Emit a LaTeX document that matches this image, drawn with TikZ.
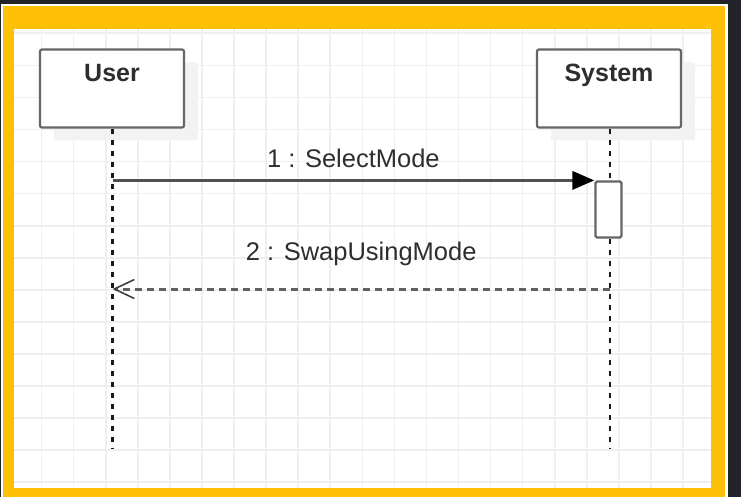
\documentclass[tikz,border=0pt]{standalone}
\usepackage{fontspec}
\setmainfont{Liberation Sans}
\usetikzlibrary{arrows.meta,shadows}

\definecolor{pagedark}{HTML}{212529}
\definecolor{frameyellow}{HTML}{FFC107}
\definecolor{gridgray}{HTML}{EFEFEF}
\definecolor{boxborder}{HTML}{666666}
\definecolor{textdark}{HTML}{2E2E2E}
\definecolor{shadowgray}{HTML}{F2F2F2}
\definecolor{msggray}{HTML}{505050}

\begin{document}
\begin{tikzpicture}[x=1pt,y=-1pt,
  gridline/.style={draw=gridgray, line width=1.6pt},
  lifebox/.style={draw=boxborder, line width=2.2pt, fill=white, rounded corners=2pt,
    minimum width=144pt, minimum height=78pt, inner sep=0pt,
    drop shadow={shadow xshift=14pt, shadow yshift=-13pt, fill=shadowgray, opacity=1}},
  actbox/.style={draw=boxborder, line width=2.2pt, fill=white, rounded corners=1.5pt,
    minimum width=26pt, minimum height=56pt, inner sep=0pt},
  headtext/.style={font=\fontsize{25}{30}\selectfont\bfseries, text=textdark, anchor=base, inner sep=0pt},
  msgtext/.style={font=\fontsize{25.5}{30}\selectfont, text=textdark, anchor=base, inner sep=0pt},
  lifeline/.style={draw=black!90, line width=2.2pt, dash pattern=on 5pt off 6pt},
  callmsg/.style={draw=msggray, line width=3.5pt, -{Triangle[length=22pt,width=18pt,fill=black,color=black]}},
  replymsg/.style={draw=msggray!90, line width=3pt, dash pattern=on 7pt off 5pt,
    -{Straight Barb[length=20pt,width=19pt,line width=1.6pt,color=black!75]}}
]
\useasboundingbox (0,0) rectangle (741,497);

% page background and yellow frame
\fill[pagedark] (0,0) rectangle (741,497);
\fill[white] (0.5,4) rectangle (727.5,497);
\fill[frameyellow] (2.5,6.5) rectangle (724.5,497);
\fill[white] (14,29) rectangle (711,488);

% background grid
\begin{scope}
  \clip (14,29) rectangle (711,488);
  \foreach \i in {0,...,21}
    \draw[gridline] ({41.6+32.07*\i},29) -- ++(0,459);
  \foreach \j in {0,...,14}
    \draw[gridline] (14,{33.3+32.07*\j}) -- ++(697,0);
\end{scope}

% participants
\node[lifebox] (user) at (112,88.5) {};
\node[lifebox] (system) at (609,88.5) {};
\node[headtext] (userlbl) at (112,82) {User};
\node[headtext] (systemlbl) at (609,82) {System};

% lifelines
\coordinate (userend) at (112.5,448);
\coordinate (systemend) at (610,448);
\draw[lifeline] (user.south -| userend) -- (userend);
\draw[lifeline] (system.south -| systemend) -- (systemend);

% activation bar on the System lifeline
\node[actbox] (act) at (608.5,209.5) {};

% 1 : SelectMode
\coordinate (m1start) at (userend |- act.north west);
\draw[callmsg] (m1start) -- (act.north west)
  node[msgtext, pos=0.5, yshift=13pt] (m1lbl) {1 : SelectMode};

% 2 : SwapUsingMode
\coordinate (m2start) at (610,289);
\coordinate (m2end) at (userend |- m2start);
\draw[replymsg] (m2start) -- (m2end)
  node[msgtext, pos=0.5, yshift=29pt] (m2lbl) {2 : SwapUsingMode};
\end{tikzpicture}
\end{document}
